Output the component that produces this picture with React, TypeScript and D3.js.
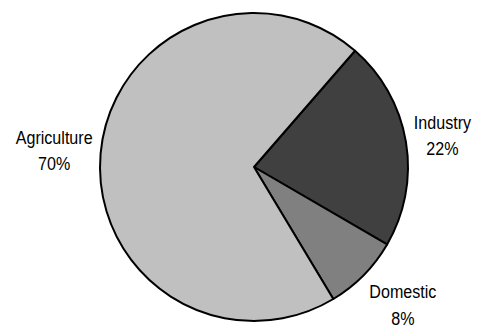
import React from "react";
import * as d3 from "d3";

const categories = ["Industry", "Domestic", "Agriculture"];
const shares = [22, 8, 70];
const fills = ["#404040", "#808080", "#c0c0c0"];

const W = 478;
const H = 331;
const cx = 254;
const cy = 167;
const radius = 154;
const labelGap = 8;
const startDeg = 41;

const FONT_SIZE = 18.5;
const X_SCALE = 0.87;
const LINE_H = 26.5;
const FONT = "'Liberation Sans', Arial, sans-serif";

// Width of a text line as drawn (horizontally squeezed glyphs)
function textWidth(s: string): number {
  const ctx = document.createElement("canvas").getContext("2d");
  if (!ctx) return s.length * FONT_SIZE * 0.5 * X_SCALE;
  ctx.font = `${FONT_SIZE}px ${FONT}`;
  return ctx.measureText(s).width * X_SCALE;
}

export default function App() {
  const pie = d3
    .pie<number>()
    .sort(null)
    .startAngle((startDeg * Math.PI) / 180)
    .endAngle((startDeg * Math.PI) / 180 + 2 * Math.PI);
  const arcs = pie(shares);
  const arcGen = d3.arc<d3.PieArcDatum<number>>().innerRadius(0).outerRadius(radius);

  // lowest allowed label-block centre so the second line stays in the frame
  const maxY = H - cy - LINE_H / 2 - FONT_SIZE * 0.68;

  return (
    <svg
      width={W}
      height={H}
      style={{ position: "absolute", left: 0, top: 0, background: "#fff" }}
    >
      <g transform={`translate(${cx},${cy})`}>
        {arcs.map((a, i) => (
          <path
            key={categories[i]}
            d={arcGen(a) || ""}
            fill={fills[i]}
            stroke="#000"
            strokeWidth={2}
            strokeLinejoin="round"
          />
        ))}
        {arcs.map((a, i) => {
          const lines = [categories[i], `${shares[i]}%`];
          const mid = (a.startAngle + a.endAngle) / 2;
          const s = Math.sin(mid);
          const c = -Math.cos(mid);
          const halfW = Math.max(...lines.map(textWidth)) / 2;
          const halfH = LINE_H * 1.08;
          const k = Math.max(Math.abs(s), Math.abs(c));
          // anchor just outside the rim, then push the label box outward
          const x = (radius + labelGap) * s + (halfW * s) / k;
          const y = Math.min(maxY, (radius + labelGap) * c + (halfH * c) / k);
          return (
            <g key={"l" + categories[i]} transform={`translate(${x},${y})`}>
              {lines.map((t, j) => (
                <text
                  key={j}
                  transform={`translate(0,${(j - 0.5) * LINE_H}) scale(${X_SCALE},1)`}
                  textAnchor="middle"
                  dominantBaseline="central"
                  fontFamily={FONT}
                  fontSize={FONT_SIZE}
                  fill="#000"
                >
                  {t}
                </text>
              ))}
            </g>
          );
        })}
      </g>
    </svg>
  );
}
